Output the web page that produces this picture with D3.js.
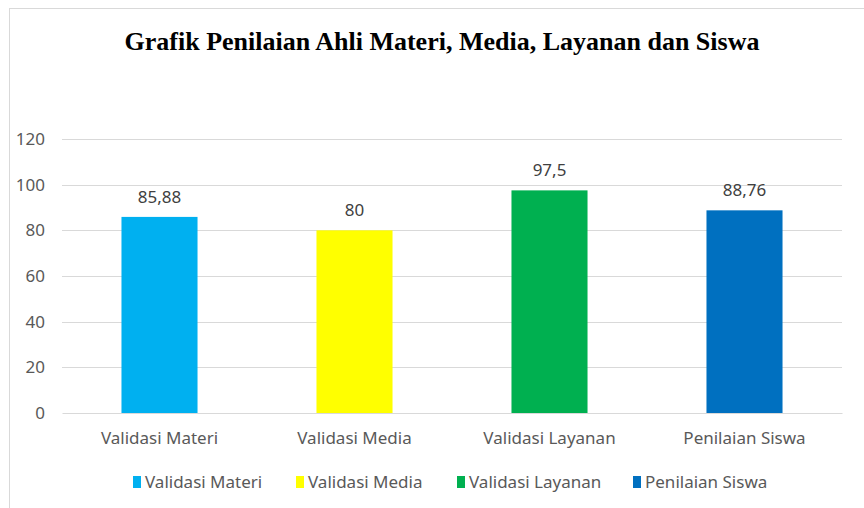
<!DOCTYPE html>
<html>
<head>
<meta charset="utf-8">
<script src="https://cdn.jsdelivr.net/npm/d3@7"></script>
<style>
  body { margin: 0; background: #fff; }
  svg { display: block; }
</style>
</head>
<body>
<svg id="chart"></svg>
<script>
// Data
const categories = ["Validasi Materi", "Validasi Media", "Validasi Layanan", "Penilaian Siswa"];
const values = [85.88, 80, 97.5, 88.76];
const colors = ["#00B0F0", "#FFFF00", "#00B050", "#0070C0"];
const yTicks = [0, 20, 40, 60, 80, 100, 120];

const width = 864;
const height = 508;
const margin = ({top: 139, right: 22, bottom: 95, left: 62});
const font = "'Noto Sans', 'Open Sans', sans-serif";

const svg = d3.select("#chart")
    .attr("width", width)
    .attr("height", height)
    .attr("viewBox", [0, 0, width, height]);

// outer chart frame
svg.append("rect")
    .attr("x", 9.5).attr("y", 8.5)
    .attr("width", width + 20).attr("height", height + 20)
    .attr("fill", "#fff")
    .attr("stroke", "#d9d9d9");

const x = d3.scaleBand()
    .domain(categories)
    .range([margin.left, width - margin.right])
    .paddingInner(0.61)
    .paddingOuter(0.305);

const y = d3.scaleLinear()
    .domain([0, 120])
    .range([height - margin.bottom, margin.top]);

const color = d3.scaleOrdinal(categories, colors);

// title
svg.append("text")
    .attr("x", 442)
    .attr("y", 50)
    .attr("text-anchor", "middle")
    .attr("font-family", "'Liberation Serif', 'Times New Roman', serif")
    .attr("font-weight", "bold")
    .attr("font-size", 26)
    .attr("fill", "#000")
    .text("Grafik Penilaian Ahli Materi, Media, Layanan dan Siswa");

// grid
svg.append("g")
    .attr("stroke", "#d9d9d9")
    .selectAll("line")
    .data(yTicks.slice(1))
    .join("line")
    .attr("x1", margin.left)
    .attr("x2", width - margin.right)
    .attr("y1", d => Math.round(y(d)) + 0.5)
    .attr("y2", d => Math.round(y(d)) + 0.5);

// y axis labels
const yAxis = g => g
    .attr("transform", `translate(${margin.left - 17},0)`)
    .call(d3.axisLeft(y).tickValues(yTicks).tickSize(0).tickPadding(0))
    .call(g => g.select(".domain").remove())
    .call(g => g.selectAll("text")
        .attr("font-family", font)
        .attr("font-size", 17)
        .attr("fill", "#595959"));

svg.append("g").call(yAxis);

// bars
svg.append("g")
    .selectAll("rect")
    .data(values)
    .join("rect")
    .attr("x", (d, i) => x(categories[i]))
    .attr("y", d => y(d))
    .attr("width", x.bandwidth())
    .attr("height", d => y(0) - y(d))
    .attr("fill", (d, i) => color(categories[i]));

// value labels
svg.append("g")
    .selectAll("text")
    .data(values)
    .join("text")
    .attr("x", (d, i) => x(categories[i]) + x.bandwidth() / 2)
    .attr("y", d => y(d) - 14)
    .attr("text-anchor", "middle")
    .attr("font-family", font)
    .attr("font-size", 17)
    .attr("fill", "#404040")
    .text(d => String(d).replace(".", ","));

// x axis
const xAxis = g => g
    .attr("transform", `translate(0,${height - margin.bottom})`)
    .call(d3.axisBottom(x).tickSize(0).tickPadding(19))
    .call(g => g.select(".domain").attr("stroke", "#d9d9d9"))
    .call(g => g.selectAll("text")
        .attr("font-family", font)
        .attr("font-size", 17)
        .attr("fill", "#595959"));

svg.append("g").call(xAxis);

// legend
const legendX = [133, 296, 457, 633];
const legend = svg.append("g")
    .selectAll("g")
    .data(categories)
    .join("g")
    .attr("transform", (d, i) => `translate(${legendX[i]},482)`);

legend.append("rect")
    .attr("x", 0).attr("y", -6)
    .attr("width", 8).attr("height", 12)
    .attr("fill", d => color(d));

legend.append("text")
    .attr("x", 12)
    .attr("y", 0)
    .attr("dy", "0.35em")
    .attr("font-family", font)
    .attr("font-size", 17)
    .attr("fill", "#595959")
    .text(d => d);
</script>
</body>
</html>
